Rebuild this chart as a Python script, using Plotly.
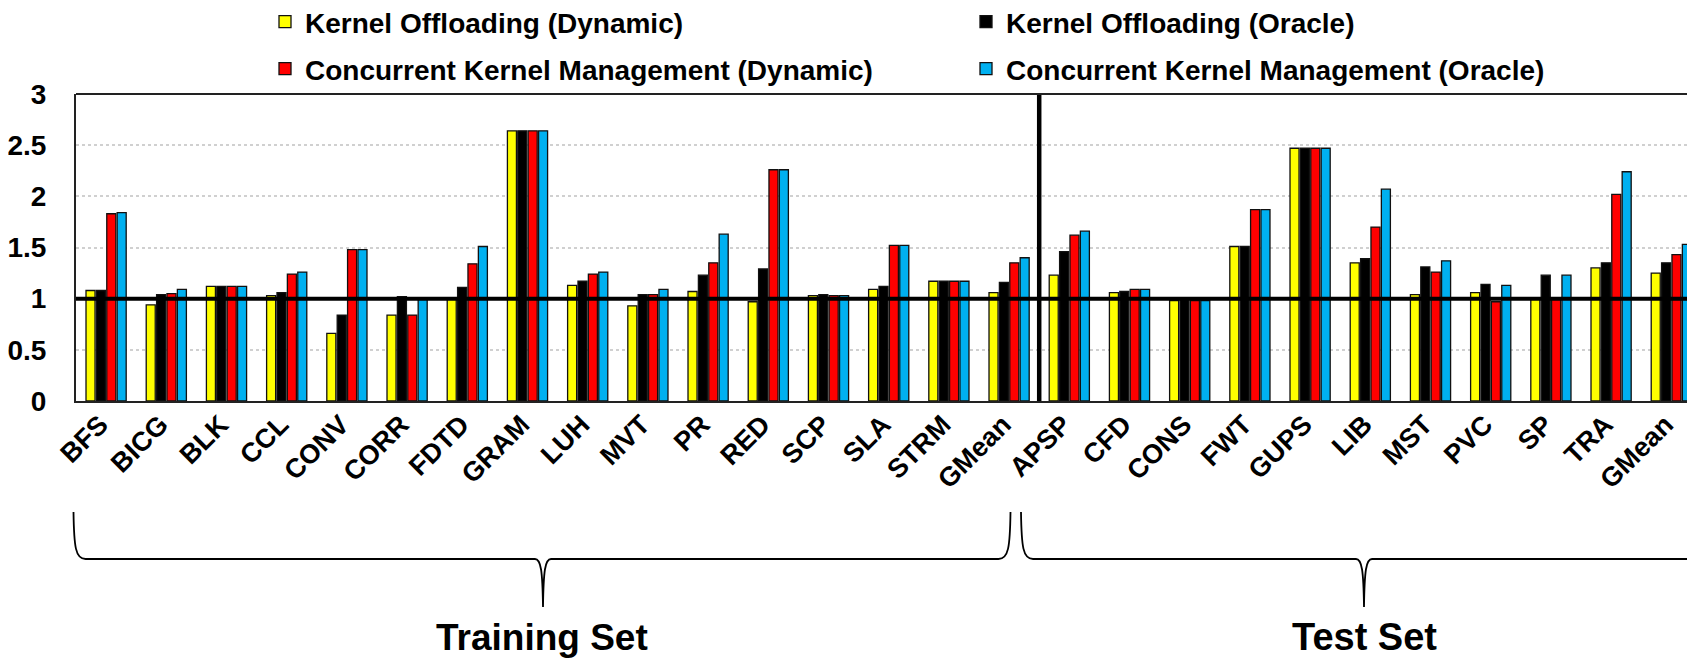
import plotly.graph_objects as go

categories = ["BFS", "BICG", "BLK", "CCL", "CONV", "CORR", "FDTD", "GRAM", "LUH", "MVT",
              "PR", "RED", "SCP", "SLA", "STRM", "GMean",
              "APSP", "CFD", "CONS", "FWT", "GUPS", "LIB", "MST", "PVC", "SP", "TRA", "GMean"]

ko_dynamic = [1.08, 0.94, 1.12, 1.03, 0.66, 0.84, 1.00, 2.64, 1.13, 0.93,
              1.07, 0.97, 1.03, 1.09, 1.17, 1.06,
              1.23, 1.06, 0.98, 1.51, 2.47, 1.35, 1.04, 1.06, 1.01, 1.30, 1.25]
ko_oracle = [1.08, 1.04, 1.12, 1.06, 0.84, 1.02, 1.11, 2.64, 1.17, 1.04,
             1.23, 1.29, 1.04, 1.12, 1.17, 1.16,
             1.46, 1.07, 1.00, 1.51, 2.47, 1.39, 1.31, 1.14, 1.23, 1.35, 1.35]
ckm_dynamic = [1.83, 1.05, 1.12, 1.24, 1.48, 0.84, 1.34, 2.64, 1.24, 1.04,
               1.35, 2.26, 1.03, 1.52, 1.17, 1.35,
               1.62, 1.09, 0.98, 1.87, 2.47, 1.70, 1.26, 0.97, 1.00, 2.02, 1.43]
ckm_oracle = [1.84, 1.09, 1.12, 1.26, 1.48, 1.00, 1.51, 2.64, 1.26, 1.09,
              1.63, 2.26, 1.03, 1.52, 1.17, 1.40,
              1.66, 1.09, 0.98, 1.87, 2.47, 2.07, 1.37, 1.13, 1.23, 2.24, 1.53]

series_names = ["Kernel Offloading (Dynamic)", "Kernel Offloading (Oracle)",
                "Concurrent Kernel Management (Dynamic)", "Concurrent Kernel Management (Oracle)"]
series_values = [ko_dynamic, ko_oracle, ckm_dynamic, ckm_oracle]
series_colors = ["#FFFF00", "#000000", "#FF0000", "#00B0F0"]
series_legend = ["legend", "legend", "legend2", "legend2"]

group_labels = ["Training Set", "Test Set"]
n_train = 16

# the page body adds an 8px margin; size the figure so it fills the window exactly
OFF = 8
W, H = 1695 - OFF, 659 - OFF
L = 76 - OFF            # plot left edge (reference px 76)
T = 94 - OFF            # plot top edge (reference px 94)
B = 659 - 401           # plot bottom edge at reference px 401
PW = W - L
PH = H - T - B
CAT_W = 60.2
x_idx = list(range(len(categories)))

FONT = "Liberation Sans, Arial, sans-serif"


def px_x(px):
    """reference-window pixel x -> paper x"""
    return (px - OFF - L) / PW


def px_y(py):
    """reference-window pixel y -> paper y"""
    return (H - B - (py - OFF)) / PH


fig = go.Figure()
for name, vals, col, lg in zip(series_names, series_values, series_colors, series_legend):
    fig.add_trace(go.Bar(
        x=x_idx, y=vals, name=name, legend=lg,
        marker=dict(color=col, line=dict(color="#111111", width=1.3)),
    ))

shapes = []
shapes.append(dict(type="line", xref="paper", yref="y", x0=0, x1=1, y0=1, y1=1,
                   line=dict(color="black", width=4), layer="above"))
shapes.append(dict(type="line", xref="x", yref="paper", x0=n_train - 0.5, x1=n_train - 0.5,
                   y0=0, y1=1, line=dict(color="black", width=4.5), layer="above"))
shapes.append(dict(type="line", xref="paper", yref="paper", x0=0, x1=1, y0=1, y1=1,
                   line=dict(color="#222222", width=2), layer="above"))


def brace(x_left, x_tip, x_right, y_top=512, y_h=559, y_tip=607):
    X = px_x
    Y = px_y
    p = (f"M {X(x_left)},{Y(y_top)} "
         f"C {X(x_left + 0.5)},{Y(y_h - 12)} {X(x_left + 2)},{Y(y_h)} {X(x_left + 12)},{Y(y_h)} "
         f"L {X(x_tip - 8)},{Y(y_h)} "
         f"C {X(x_tip - 2)},{Y(y_h)} {X(x_tip - 0.5)},{Y(y_h + 12)} {X(x_tip)},{Y(y_tip)} "
         f"C {X(x_tip + 0.5)},{Y(y_h + 12)} {X(x_tip + 2)},{Y(y_h)} {X(x_tip + 8)},{Y(y_h)} ")
    if x_right is not None:
        p += (f"L {X(x_right - 12)},{Y(y_h)} "
              f"C {X(x_right - 2)},{Y(y_h)} {X(x_right - 0.5)},{Y(y_h - 12)} {X(x_right)},{Y(y_top)}")
    else:
        p += f"L {X(1700)},{Y(y_h)}"
    return dict(type="path", xref="paper", yref="paper", path=p,
                line=dict(color="black", width=1.8))


shapes.append(brace(73.5, 543, 1010.5))
shapes.append(brace(1021, 1364, None))

annotations = [
    dict(text=group_labels[0], xref="paper", yref="paper", x=px_x(542), y=px_y(637),
         showarrow=False, xanchor="center", yanchor="middle",
         font=dict(family=FONT, size=37, color="black", weight="bold")),
    dict(text=group_labels[1], xref="paper", yref="paper", x=px_x(1364), y=px_y(637),
         showarrow=False, xanchor="center", yanchor="middle",
         font=dict(family=FONT, size=38, color="black", weight="bold")),
]

legend_common = dict(orientation="h", xanchor="left", yanchor="middle",
                     font=dict(family=FONT, size=28, color="black", weight="bold"),
                     bgcolor="rgba(0,0,0,0)", entrywidth=656, entrywidthmode="pixels",
                     itemwidth=30, itemclick=False)

fig.update_layout(
    width=W, height=H,
    margin=dict(l=L, r=0, t=T, b=B, pad=0, autoexpand=False),
    paper_bgcolor="white", plot_bgcolor="white",
    barmode="group", bargap=0.31, bargroupgap=0.13,
    font=dict(family=FONT, color="black"),
    showlegend=True,
    legend=dict(x=px_x(265), y=px_y(22), **legend_common),
    legend2=dict(x=px_x(265), y=px_y(69), **legend_common),
    shapes=shapes,
    annotations=annotations,
    xaxis=dict(
        range=[-0.5, -0.5 + PW / CAT_W],
        tickmode="array", tickvals=x_idx, ticktext=categories,
        tickangle=-45, ticks="", showgrid=False, zeroline=False,
        showline=True, linecolor="#222222", linewidth=2,
        tickfont=dict(family=FONT, size=27, color="black", weight="bold"),
        ticklabelstandoff=-5, ticklabelshift=-6,
    ),
    yaxis=dict(
        range=[0, 3], dtick=0.5, tick0=0,
        showgrid=True, gridcolor="#D0D0D0", gridwidth=1.5, griddash="dot",
        zeroline=False, showline=True, linecolor="#222222", linewidth=2,
        ticks="", tickfont=dict(family=FONT, size=28, color="black", weight="bold"),
        ticklabelstandoff=22,
    ),
)

fig.write_html("out.html")
